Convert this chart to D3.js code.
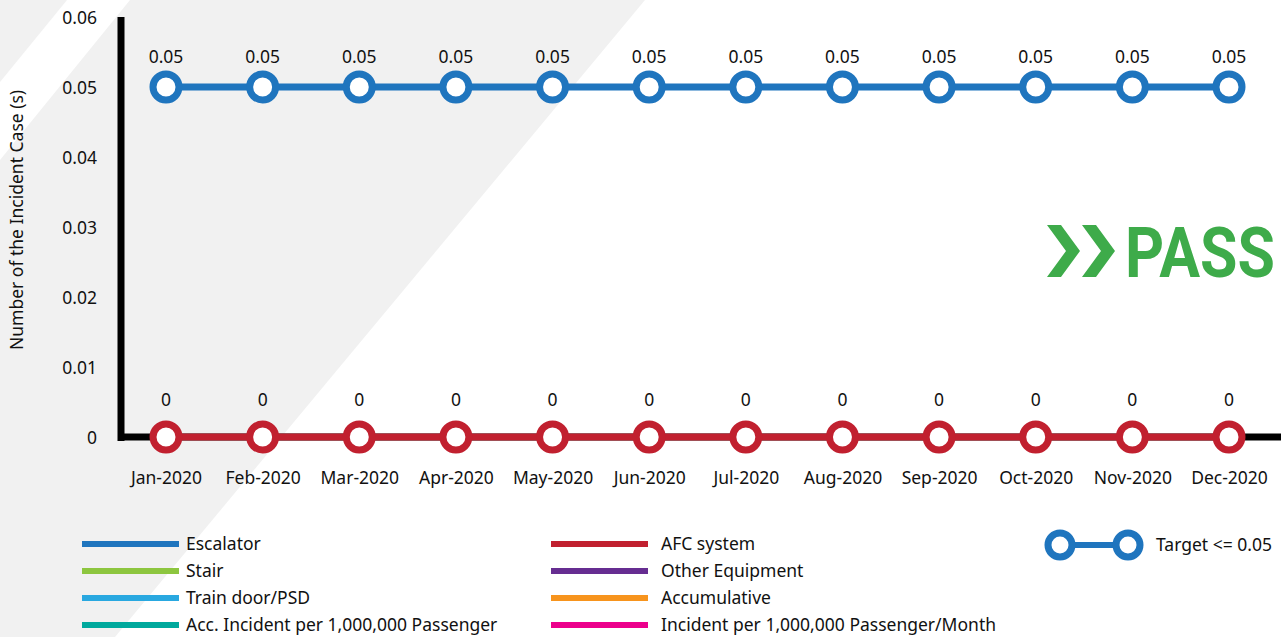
<!DOCTYPE html>
<html><head><meta charset="utf-8">
<script src="https://cdn.jsdelivr.net/npm/d3@7"></script>
<style>
html,body{margin:0;padding:0;background:#fff;}
svg{display:block;font-family:"Noto Sans",sans-serif;}
</style></head>
<body>
<svg id="c" width="1281" height="637"></svg>
<script>
const months = ["Jan-2020","Feb-2020","Mar-2020","Apr-2020","May-2020","Jun-2020","Jul-2020","Aug-2020","Sep-2020","Oct-2020","Nov-2020","Dec-2020"];
const targetValues = [0.05,0.05,0.05,0.05,0.05,0.05,0.05,0.05,0.05,0.05,0.05,0.05];
const actualValues = [0,0,0,0,0,0,0,0,0,0,0,0];
const yTicks = [0,0.01,0.02,0.03,0.04,0.05,0.06];
const legendLeft = [["Escalator","#1f75be"],["Stair","#8dc63f"],["Train door/PSD","#29a8e0"],["Acc. Incident per 1,000,000 Passenger","#00a99d"]];
const legendRight = [["AFC system","#c1202f"],["Other Equipment","#662d91"],["Accumulative","#f7941d"],["Incident per 1,000,000 Passenger/Month","#ec008c"]];
const targetLabel = "Target <= 0.05";

const svg = d3.select("#c");
const W = 1281, H = 637;
const BLUE = "#1f75be", RED = "#c1202f";
const FS = 17.5;

// background stripes
const bg = svg.append("g");
bg.append("polygon").attr("points", "0,0 67,0 0,82").attr("fill","#f1f1f1");
bg.append("polygon").attr("points", `130,0 645,0 115,${H} 0,${H} 0,160`).attr("fill","#f1f1f1");

const x = d3.scalePoint().domain(months).range([166, 1229]);
const y = d3.scaleLinear().domain([0, 0.06]).range([437, 17]);

// y axis
const yAxis = d3.axisLeft(y).tickValues(yTicks).tickSize(0).tickPadding(0)
  .tickFormat(d => d === 0 ? "0" : d3.format(".2f")(d));
const ya = svg.append("g").attr("transform","translate(97,0)").call(yAxis);
ya.select(".domain").remove();
ya.selectAll("text").attr("font-size",FS).attr("fill","#111").attr("font-family","Noto Sans, sans-serif").attr("dy","0.35em");

// x axis
const xAxis = d3.axisBottom(x).tickSize(0).tickPadding(0);
const xa = svg.append("g").attr("transform","translate(0,478)").call(xAxis);
xa.select(".domain").remove();
xa.selectAll("text").attr("font-size",FS).attr("fill","#111").attr("font-family","Noto Sans, sans-serif").attr("dy","0.35em");

// axis lines
svg.append("line").attr("x1",121).attr("x2",121).attr("y1",y(0.06)).attr("y2",y(0)+4)
  .attr("stroke","#000").attr("stroke-width",7);
svg.append("line").attr("x1",118).attr("x2",W).attr("y1",y(0)).attr("y2",y(0))
  .attr("stroke","#000").attr("stroke-width",7);

// y title
svg.append("text").attr("transform",`translate(17,220) rotate(-90)`).attr("text-anchor","middle")
  .attr("dy","0.35em").attr("font-size",FS).attr("fill","#111").text("Number of the Incident Case (s)");

function series(vals, color, labelFmt, off) {
  const g = svg.append("g");
  const line = d3.line().x((d,i)=>x(months[i])).y(d=>y(d));
  g.append("path").attr("d", line(vals)).attr("fill","none").attr("stroke",color).attr("stroke-width",7);
  g.selectAll("circle").data(vals).join("circle")
    .attr("cx",(d,i)=>x(months[i])).attr("cy",d=>y(d)).attr("r",13)
    .attr("fill","#fff").attr("stroke",color).attr("stroke-width",7);
  g.selectAll("text").data(vals).join("text")
    .attr("x",(d,i)=>x(months[i])).attr("y",d=>y(d)-off).attr("dy","0.35em").attr("text-anchor","middle")
    .attr("font-size",FS).attr("fill","#111").text(labelFmt);
}
series(targetValues, BLUE, d=>d3.format(".2f")(d), 30);
series(actualValues, RED, d=>"0", 37);

// PASS logo
const logo = svg.append("g").attr("fill","#3eab4a");
function chevron(x0){
  logo.append("polygon").attr("points",
    `${x0},225 ${x0+14},225 ${x0+33},251 ${x0+14},277 ${x0},277 ${x0+19},251`);
}
chevron(1047); chevron(1082);
const passG = logo.append("g");
const passT = passG.append("text").attr("x",0).attr("y",0).attr("font-size",71).attr("font-weight",700)
  .attr("font-family","Roboto, sans-serif").text("PASS");
const natW = passT.node().getComputedTextLength() || 170;
passG.attr("transform",`translate(1125,277) scale(${150/natW},1)`);

// legend
const ly = [544,571,598,625];
function legCol(items, x1, x2, tx){
  items.forEach((it,i)=>{
    svg.append("line").attr("x1",x1).attr("x2",x2).attr("y1",ly[i]).attr("y2",ly[i])
      .attr("stroke",it[1]).attr("stroke-width",6);
    svg.append("text").attr("x",tx).attr("y",ly[i]).attr("dy","0.35em").attr("font-size",FS)
      .attr("fill","#111").text(it[0]);
  });
}
legCol(legendLeft, 82, 179, 186);
legCol(legendRight, 551, 648, 661);

const tg = svg.append("g");
tg.append("line").attr("x1",1060).attr("x2",1128).attr("y1",545).attr("y2",545).attr("stroke",BLUE).attr("stroke-width",6);
[1060,1128].forEach(cx=>tg.append("circle").attr("cx",cx).attr("cy",545).attr("r",12)
  .attr("fill","#fff").attr("stroke",BLUE).attr("stroke-width",7));
tg.append("text").attr("x",1156).attr("y",545).attr("dy","0.35em").attr("font-size",FS).attr("fill","#111").text(targetLabel);
</script>
</body></html>
